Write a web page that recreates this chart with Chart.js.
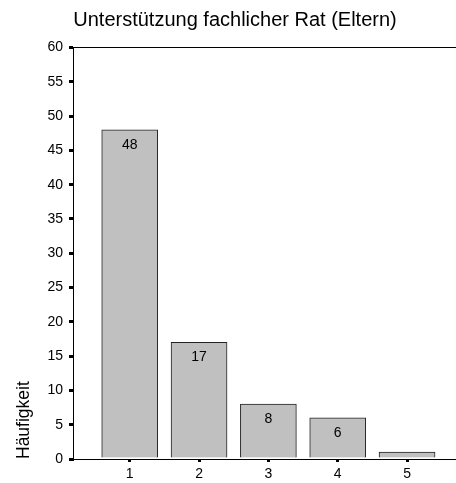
<!DOCTYPE html>
<html>
<head>
<meta charset="utf-8">
<script src="https://cdn.jsdelivr.net/npm/chart.js@4/dist/chart.umd.min.js"></script>
<style>
html,body{margin:0;padding:0;background:#fff;}
#wrap{width:456px;height:483px;}
</style>
</head>
<body>
<div id="wrap"><canvas id="c" width="456" height="483"></canvas></div>
<script>
const categories = [1, 2, 3, 4, 5];
const counts = [48, 17, 8, 6, 1];
const yTicks = [0, 5, 10, 15, 20, 25, 30, 35, 40, 45, 50, 55, 60];
const titleText = "Unterstützung fachlicher Rat (Eltern)";
const yTitle = "Häufigkeit";

const FONT = "'Liberation Sans', Arial, sans-serif";

const labelPlugin = {
  id: 'barLabels',
  afterDatasetsDraw(chart) {
    const ctx = chart.ctx;
    const meta = chart.getDatasetMeta(0);
    ctx.save();
    ctx.font = "14px " + FONT;
    ctx.fillStyle = "#000";
    ctx.textAlign = "center";
    ctx.textBaseline = "middle";
    meta.data.forEach((bar, i) => {
      if (counts[i] < 3) return;
      ctx.fillText(String(counts[i]), bar.x, bar.y + 15);
    });
    ctx.restore();
  }
};

new Chart(document.getElementById('c'), {
  type: 'bar',
  data: {
    datasets: [{
      data: categories.map((c, i) => ({x: c, y: counts[i]})),
      backgroundColor: '#c0c0c0',
      borderColor: '#222',
      borderWidth: 1,
      borderSkipped: 'bottom',
      barThickness: 56,
      xAxisID: 'x',
      yAxisID: 'y'
    }]
  },
  options: {
    responsive: false,
    animation: false,
    layout: {padding: {left: 14, right: 0, top: 0, bottom: 0}},
    plugins: {
      legend: {display: false},
      tooltip: {enabled: false},
      title: {
        display: true,
        text: titleText,
        color: '#000',
        font: {family: FONT, size: 20, weight: 'normal'},
        padding: {top: 8, bottom: 0}
      }
    },
    scales: {
      x: {
        type: 'linear',
        position: 'bottom',
        offset: false,
        min: 0.182,
        max: 5.706,
        afterBuildTicks: s => { s.ticks = categories.map(v => ({value: v})); },
        afterFit: s => { s.height = 24; },
        grid: {display: true, offset: false, drawOnChartArea: false, drawTicks: true, tickLength: 3, lineWidth: 3, color: '#000'},
        border: {display: true, color: '#000', width: 1},
        ticks: {color: '#000', font: {family: FONT, size: 14}, padding: 4, maxRotation: 0, autoSkip: false}
      },
      x2: {
        type: 'linear',
        position: 'top',
        offset: false,
        min: 0, max: 1,
        afterFit: s => { s.height = 15.5; },
        grid: {display: false},
        border: {display: true, color: '#000', width: 1},
        ticks: {display: false}
      },
      y: {
        type: 'linear',
        min: 0,
        max: 60,
        afterBuildTicks: s => { s.ticks = yTicks.map(v => ({value: v})); },
        afterFit: s => { s.width = 59; },
        grid: {display: true, drawOnChartArea: false, drawTicks: true, tickLength: 4, lineWidth: 3, color: '#000'},
        border: {display: true, color: '#000', width: 1},
        ticks: {color: '#000', font: {family: FONT, size: 14}, padding: 6},
        title: {
          display: true,
          text: yTitle,
          align: 'start',
          color: '#000',
          font: {family: FONT, size: 17.5},
          padding: {top: 0, bottom: 0}
        }
      }
    }
  },
  plugins: [labelPlugin]
});
</script>
</body>
</html>
